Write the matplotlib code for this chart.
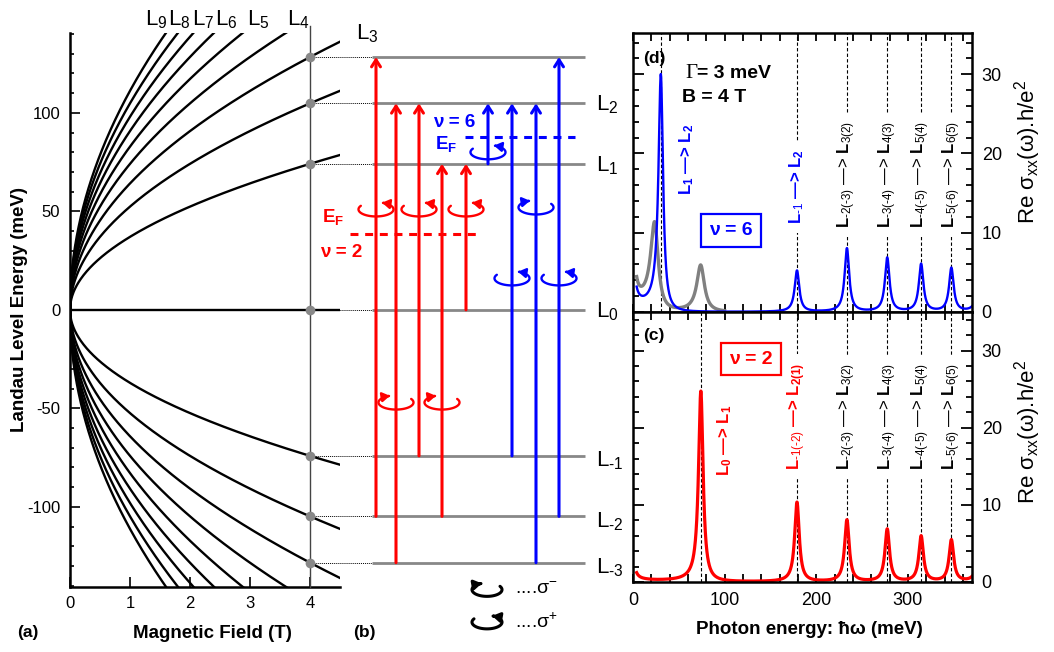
import numpy as np
import matplotlib
matplotlib.use('Agg')
import matplotlib.pyplot as plt
from matplotlib.patches import FancyArrowPatch
from matplotlib.path import Path
from matplotlib.ticker import MultipleLocator

plt.rcParams['font.family'] = ['Liberation Sans', 'DejaVu Sans']
plt.rcParams['mathtext.fontset'] = 'custom'
plt.rcParams['mathtext.rm'] = 'Liberation Sans'
plt.rcParams['mathtext.it'] = 'Liberation Sans:italic'
plt.rcParams['mathtext.bf'] = 'Liberation Sans:bold'
plt.rcParams['axes.unicode_minus'] = False

# ---------------- data ----------------
# Landau level energies (meV) at B = 4 T, levels n = 1..9
level_index = [1, 2, 3, 4, 5, 6, 7, 8, 9]
level_energy_4T = [74.1, 104.8, 128.3, 148.2, 165.7, 181.5, 196.0, 209.6, 222.3]
B_ref = 4.0
top_labels = ['L$_9$', 'L$_8$', 'L$_7$', 'L$_6$', 'L$_5$', 'L$_4$']

# panel (b): transitions (from level, to level)
red_transitions = [(-2, 3), (-3, 2), (-1, 2), (-2, 1), (0, 1)]
blue_transitions = [(1, 2), (-1, 2), (-3, 2), (-2, 3)]
# polarisation symbols: (arrow index, energy meV, sense)
red_pol = [(0, 51, '+'), (2, 51, '+'), (4, 51, '+'), (1, -47, '-'), (3, -47, '-')]
blue_pol = [(0, 80, '+'), (2, 52, '-'), (1, 16, '+'), (3, 16, '+')]
EF_nu2 = 38.6
EF_nu6 = 87.8

# panels (c), (d): absorption peaks (meV) and peak heights (Re sigma_xx . h/e^2)
gamma = 3.0
peaks_nu2 = [74.1, 179.0, 233.5, 277.5, 314.5, 347.5, 378.0]
heights_nu2 = [24.7, 10.3, 8.0, 6.8, 5.9, 5.4, 5.0]
peaks_nu6 = [30.5, 179.0, 233.5, 277.5, 314.5, 347.5, 378.0]
heights_nu6 = [29.9, 5.2, 8.0, 6.8, 6.0, 5.5, 5.0]
peaks_gray = [24.0, 74.0]
heights_gray = [11.1, 5.9]
gamma_gray = 5.0
lines_d = [30.5, 179.0, 233.5, 277.5, 314.5, 347.5]
lines_c = [74.1, 179.0, 233.5, 277.5, 314.5, 347.5]
black_labels = [r'$\mathbf{L}_{\text{-2(-3)}}$ —> $\mathbf{L}_{3(2)}$',
                r'$\mathbf{L}_{\text{-3(-4)}}$ —> $\mathbf{L}_{4(3)}$',
                r'$\mathbf{L}_{\text{-4(-5)}}$ —> $\mathbf{L}_{5(4)}$',
                r'$\mathbf{L}_{\text{-5(-6)}}$ —> $\mathbf{L}_{6(5)}$']

# ---------------- layout helpers ----------------
W, H = 1054, 652
fig = plt.figure(figsize=(W / 100, H / 100), dpi=100)


def rect(l, t, r, b):
    return [l / W, 1 - b / H, (r - l) / W, (b - t) / H]


def ftext(x, y, s, **kw):
    fig.text(x / W, 1 - y / H, s, **kw)


def E(n):
    if n == 0:
        return 0.0
    return np.sign(n) * level_energy_4T[abs(n) - 1]


ylo, yhi = -140.5, 140.5

# ---------------- panel (a) ----------------
axa = fig.add_axes(rect(70, 33, 340, 586.7))
Bgrid = np.linspace(0, 4.5, 600)
for E4 in level_energy_4T:
    axa.plot(Bgrid, E4 * np.sqrt(Bgrid / B_ref), color='k', lw=1.7)
    axa.plot(Bgrid, -E4 * np.sqrt(Bgrid / B_ref), color='k', lw=1.7)
axa.plot([0, 4.5], [0, 0], color='k', lw=1.7)
axa.plot([B_ref, B_ref], [ylo, 144], color='#444444', lw=1.0, clip_on=False, zorder=3)
for n in range(-3, 4):
    axa.plot([B_ref, 5.03], [E(n), E(n)], color='k', lw=0.7, ls=(0, (1, 1)), clip_on=False)
axa.plot([B_ref] * 7, [E(n) for n in range(-3, 4)], 'o', color='#888888', ms=7,
         mec='none', clip_on=False, zorder=5)
axa.set_xlim(0, 4.5)
axa.set_ylim(ylo, yhi)
for sp in ('top', 'right'):
    axa.spines[sp].set_visible(False)
for sp in ('left', 'bottom'):
    axa.spines[sp].set_linewidth(1.8)
axa.xaxis.set_major_locator(MultipleLocator(1))
axa.yaxis.set_major_locator(MultipleLocator(50))
axa.yaxis.set_minor_locator(MultipleLocator(10))
axa.tick_params(which='both', direction='in', labelsize=12, width=1.2)
axa.tick_params(which='major', length=7, pad=7)
axa.tick_params(which='minor', length=3)
top_label_B = [1.25, 1.63, 2.03, 2.42, 2.95, 3.62]
for bx, lab in zip(top_label_B, top_labels):
    axa.text(bx, 147, lab, fontsize=16, ha='left', va='center', clip_on=False)
ftext(20, 310, 'Landau Level Energy (meV)', rotation=90, fontsize=13.5,
      fontweight='bold', ha='center', va='center')
ftext(212, 633, 'Magnetic Field (T)', fontsize=13.5, fontweight='bold',
      ha='center', va='center')
ftext(17, 633, '(a)', fontsize=12.5, fontweight='bold', ha='left', va='center')

# ---------------- panel (b) ----------------
axb = fig.add_axes(rect(300, 33, 610, 586.7))
axb.set_xlim(300, 610)
axb.set_ylim(ylo, yhi)
axb.axis('off')
axb.patch.set_visible(False)
for n in range(-3, 4):
    axb.plot([372, 585], [E(n), E(n)], color='#888888', lw=2.0, solid_capstyle='butt')
# level labels
axb.text(356, 137, 'L$_3$', fontsize=16, ha='left', va='baseline')
for n in range(-3, 3):
    off = 3.8 if n >= 0 else 5.5
    axb.text(596, E(n) - off, r'L$_{\text{%d}}$' % n, fontsize=16, ha='left', va='baseline',
             clip_on=False)

red_x = [376, 396, 419, 442, 466]
blue_x = [488, 512, 536, 559]


def up_arrow(x, e0, e1, color):
    axb.add_patch(FancyArrowPatch((x, e0), (x, e1),
                                  arrowstyle='->,head_length=5,head_width=3.2',
                                  mutation_scale=1, lw=2.2, color=color,
                                  shrinkA=0, shrinkB=0, zorder=3))


for (n0, n1), x in zip(red_transitions, red_x):
    up_arrow(x, E(n0), E(n1), '#ff0000')
for (n0, n1), x in zip(blue_transitions, blue_x):
    up_arrow(x, E(n0), E(n1), '#0000ff')


def pol(cx, cy, sense, color, a=17.5, b=3.6, lw=1.7):
    if sense == '+':
        t = np.radians(np.linspace(150, 430, 80))
    else:
        t = np.radians(np.linspace(30, -250, 80))
    verts = np.column_stack([cx + a * np.cos(t), cy + b * np.sin(t)])
    axb.add_patch(FancyArrowPatch(path=Path(verts),
                                  arrowstyle='-|>,head_length=4.5,head_width=2.8',
                                  mutation_scale=1, lw=lw, color=color,
                                  clip_on=False, zorder=4))


for i, e, s in red_pol:
    pol(red_x[i], e, s, '#ff0000')
for i, e, s in blue_pol:
    pol(blue_x[i], e, s, '#0000ff')

axb.plot([350, 476], [EF_nu2, EF_nu2], color='#ff0000', lw=2.2, ls=(0, (2.6, 2.2)))
axb.plot([465, 575], [EF_nu6, EF_nu6], color='#0000ff', lw=2.2, ls=(0, (2.6, 2.2)))
axb.text(322, 47.2, r'$\mathbf{E_F}$', color='#ff0000', fontsize=13.5, ha='left', va='center')
axb.text(320, 29, 'ν = 2', color='#ff0000', fontsize=13.5, fontweight='bold', ha='left', va='center')
axb.text(433, 95, 'ν = 6', color='#0000ff', fontsize=13.5, fontweight='bold', ha='left', va='center')
axb.text(435, 84, r'$\mathbf{E_F}$', color='#0000ff', fontsize=13.5, ha='left', va='center')

# legend
pol(487, -142, '-', 'k', a=15, b=3.4, lw=2.2)
pol(487, -158.5, '+', 'k', a=15, b=3.4, lw=2.2)
axb.text(515, -142, '....σ$^{-}$', fontsize=14, ha='left', va='center', clip_on=False)
axb.text(515, -158.5, '....σ$^{+}$', fontsize=14, ha='left', va='center', clip_on=False)
ftext(353, 633, '(b)', fontsize=12.5, fontweight='bold', ha='left', va='center')

# ---------------- panels (c), (d) ----------------


def spectrum(w, peaks, heights, g):
    s = np.zeros_like(w)
    for p, h in zip(peaks, heights):
        s += h * (p / w) * g ** 2 / ((w - p) ** 2 + g ** 2)
    return s


axd = fig.add_axes(rect(633, 33, 972, 312))
axc = fig.add_axes(rect(633, 312, 972, 582))
w = np.linspace(4, 370, 3000)
wg = np.linspace(4, 100, 800)
axd.plot(wg, spectrum(wg, peaks_gray, heights_gray, gamma_gray), color='#808080', lw=2.4, zorder=2)
axd.plot(w, spectrum(w, peaks_nu6, heights_nu6, gamma), color='#0000ff', lw=1.7, zorder=2.1)
axc.plot(w, spectrum(w, peaks_nu2, heights_nu2, gamma), color='#ff0000', lw=2.3, zorder=2)

axd.set_ylim(0, 35.2)
axc.set_ylim(0, 35)
for ax, lines in ((axd, lines_d), (axc, lines_c)):
    ax.set_xlim(0, 370)
    for x in lines:
        ax.axvline(x, color='k', lw=0.8, ls=(0, (3, 2)), zorder=1)
    for sp in ax.spines.values():
        sp.set_linewidth(1.8)
    ax.xaxis.set_major_locator(MultipleLocator(100))
    ax.xaxis.set_minor_locator(MultipleLocator(20))
    ax.yaxis.set_major_locator(MultipleLocator(10))
    ax.yaxis.set_minor_locator(MultipleLocator(2))
    ax.tick_params(which='both', direction='in', top=True, bottom=True, left=True,
                   right=True, labelleft=False, labelright=True, labelsize=13, width=1.3, pad=7)
    ax.tick_params(which='major', length=8)
    ax.tick_params(which='minor', length=4.5)
    ax.tick_params(axis='x', which='minor', length=6)
    ax.tick_params(axis='x', which='major', length=6)
axd.tick_params(labelbottom=False)

lab_kw = dict(rotation=90, ha='center', va='center', fontsize=12, zorder=1.5,
              bbox=dict(boxstyle='square,pad=0.5', fc='white', ec='none'))
for x, lab in zip(lines_d[2:], black_labels):
    axd.text(x, 17.3, lab, **lab_kw)
for x, lab in zip(lines_c[2:], black_labels):
    axc.text(x, 21.4, lab, **lab_kw)
axd.text(179.0, 15.8, r'$\mathbf{L_{\text{-1}}}$ —> $\mathbf{L_2}$', color='#0000ff',
         fontweight='bold', **lab_kw)
axd.text(58.9, 19.2, r'$\mathbf{L_1}$ —> $\mathbf{L_2}$', color='#0000ff', fontweight='bold',
         rotation=90, ha='center', va='center', fontsize=12)
axc.text(179.0, 21.5, r'$\mathbf{L_{\text{-1(-2)}}}$ —> $\mathbf{L_{2(1)}}$', color='#ff0000',
         fontweight='bold', **lab_kw)
axc.text(100.4, 18.4, r'$\mathbf{L_0}$ —> $\mathbf{L_1}$', color='#ff0000', fontweight='bold',
         rotation=90, ha='center', va='center', fontsize=12)

axd.text(107, 10.3, 'ν = 6', color='#0000ff', fontsize=14, fontweight='bold', ha='center',
         va='center', bbox=dict(boxstyle='square,pad=0.4', fc='white', ec='#0000ff', lw=1.6))
axc.text(128.8, 28.9, 'ν = 2', color='#ff0000', fontsize=14, fontweight='bold', ha='center',
         va='center', bbox=dict(boxstyle='square,pad=0.4', fc='white', ec='#ff0000', lw=1.6))
axd.text(56.8, 30.1, 'Γ', family='Liberation Serif', fontsize=15, ha='left', va='center')
axd.text(69.5, 30.1, '= 3 meV', fontsize=14, fontweight='bold', ha='left', va='center')
axd.text(53.5, 27.0, 'B = 4 T', fontsize=14, fontweight='bold', ha='left', va='center')
axd.text(10.9, 32.0, '(d)', fontsize=12.5, fontweight='bold', ha='left', va='center')
axc.text(10.9, 32.0, '(c)', fontsize=12.5, fontweight='bold', ha='left', va='center')

ftext(1028, 152, r'Re σ$_{\mathrm{xx}}$(ω).h/e$^{2}$', rotation=90, fontsize=16,
      ha='center', va='center')
ftext(1028, 432, r'Re σ$_{\mathrm{xx}}$(ω).h/e$^{2}$', rotation=90, fontsize=16,
      ha='center', va='center')
ftext(809, 630, 'Photon energy: \u0127ω (meV)', fontsize=13.5, fontweight='bold',
      ha='center', va='center')

fig.savefig('out.png', dpi=100)
